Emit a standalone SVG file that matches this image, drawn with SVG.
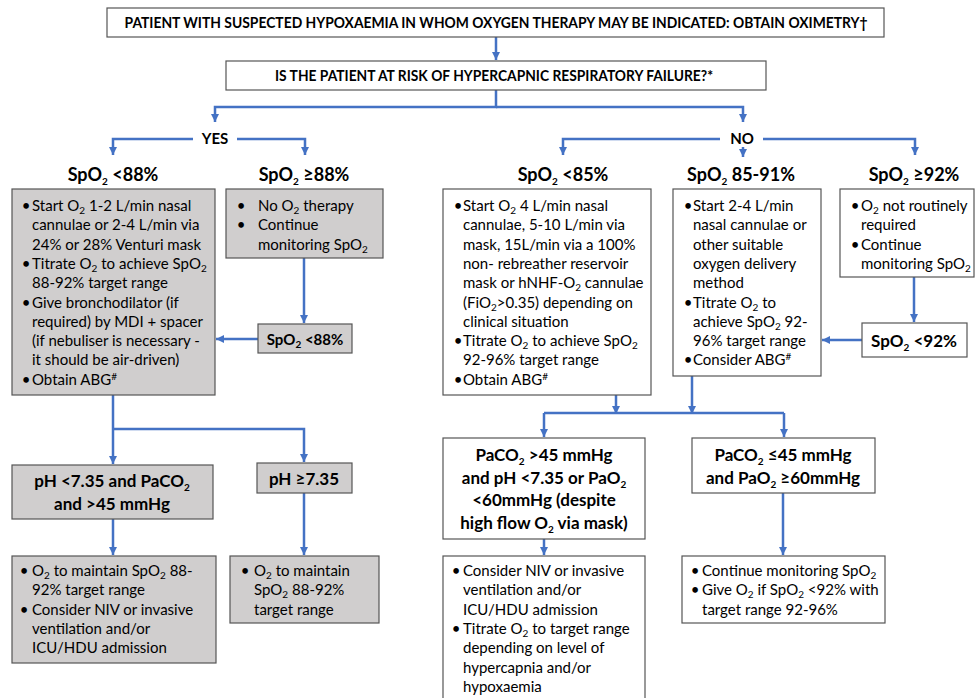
<svg xmlns="http://www.w3.org/2000/svg" width="976" height="698" viewBox="0 0 976 698">
<defs>
<marker id="ah" viewBox="0 0 8 8" refX="8" refY="4" markerWidth="8" markerHeight="8" markerUnits="userSpaceOnUse" orient="auto">
<path d="M0,0 L8,4 L0,8 z" fill="#4472C4"/>
</marker>
<style>
text{font-family:Lato,"Liberation Sans",sans-serif;fill:#000}
.hdr{font-size:15.5px;font-weight:bold;text-anchor:middle}
.lbl{font-size:18px;font-weight:bold;text-anchor:middle}
.yn{font-size:15px;font-weight:bold;text-anchor:middle}
.bh{font-size:17px;font-weight:bold;text-anchor:middle}
.t{font-size:15px}
.bu{font-size:15px;text-anchor:middle}
.s{font-size:10px}
.w{fill:#fff;stroke:#555;stroke-width:1.2}
.g{fill:#D0CECE;stroke:#555;stroke-width:1.2}
.c{fill:none;stroke:#4472C4;stroke-width:2.5}
.ca{fill:none;stroke:#4472C4;stroke-width:2.5;marker-end:url(#ah)}
</style>
</defs>
<rect width="976" height="698" fill="#fff"/>

<g id="connectors">
<path class="ca" d="M496,37 V60"/>
<path class="ca" d="M496,90 V107 H215 V122"/>
<path class="ca" d="M496,107 H743 V122"/>
<path class="ca" d="M193,139 H113 V155"/>
<path class="ca" d="M237,139 H305 V155"/>
<path class="ca" d="M720,139 H563 V155"/>
<path class="ca" d="M763,139 H915 V155"/>
<path class="ca" d="M743,147 V157"/>
<path class="ca" d="M304,258 V323"/>
<path class="ca" d="M258,339 H216"/>
<path class="ca" d="M113,395 V464"/>
<path class="ca" d="M113,429 H304 V462"/>
<path class="ca" d="M113,519 V555"/>
<path class="ca" d="M304,493 V555"/>
<path class="ca" d="M914,277 V322"/>
<path class="ca" d="M862,340 H822"/>
<path class="ca" d="M616,395 V414"/>
<path class="ca" d="M692,376 V414"/>
<path class="c" d="M544,413 H784"/>
<path class="ca" d="M544,413 V437"/>
<path class="ca" d="M784,413 V437"/>
<path class="ca" d="M544,539 V555"/>
<path class="ca" d="M783,493 V555"/>
</g>

<g id="n-start">
<rect class="w" x="107" y="8" width="777" height="29"/>
<text class="hdr" x="496" y="28" textLength="743" lengthAdjust="spacingAndGlyphs">PATIENT WITH SUSPECTED HYPOXAEMIA IN WHOM OXYGEN THERAPY MAY BE INDICATED: OBTAIN OXIMETRY†</text>
</g>

<g id="n-risk">
<rect class="w" x="226" y="61" width="540" height="29"/>
<text class="hdr" x="494" y="81" textLength="438" lengthAdjust="spacingAndGlyphs">IS THE PATIENT AT RISK OF HYPERCAPNIC RESPIRATORY FAILURE?*</text>
</g>

<g id="l-yes"><text class="yn" x="215" y="144">YES</text></g>
<g id="l-no"><text class="yn" x="742" y="144">NO</text></g>

<g id="l-spo2-lt88"><text class="lbl" x="113" y="181">SpO<tspan class="s" dy="4">2</tspan><tspan dy="-4"> &lt;88%</tspan></text></g>
<g id="l-spo2-ge88"><text class="lbl" x="304" y="181">SpO<tspan class="s" dy="4">2</tspan><tspan dy="-4"> ≥88%</tspan></text></g>
<g id="l-spo2-lt85"><text class="lbl" x="563" y="181">SpO<tspan class="s" dy="4">2</tspan><tspan dy="-4"> &lt;85%</tspan></text></g>
<g id="l-spo2-85-91"><text class="lbl" x="741" y="181">SpO<tspan class="s" dy="4">2</tspan><tspan dy="-4"> 85-91%</tspan></text></g>
<g id="l-spo2-ge92"><text class="lbl" x="914" y="181">SpO<tspan class="s" dy="4">2</tspan><tspan dy="-4"> ≥92%</tspan></text></g>

<g id="n-yes-lt88">
<rect class="g" x="12" y="189" width="203" height="206"/>
<text class="bu" x="26" y="211">•</text><text class="t" x="32" y="211">Start O<tspan class="s" dy="3">2</tspan><tspan dy="-3"> 1-2 L/min nasal</tspan></text>
<text class="t" x="32" y="230">cannulae or 2-4 L/min via</text>
<text class="t" x="32" y="250">24% or 28% Venturi mask</text>
<text class="bu" x="26" y="269">•</text><text class="t" x="32" y="269">Titrate O<tspan class="s" dy="3">2</tspan><tspan dy="-3"> to achieve SpO</tspan><tspan class="s" dy="3">2</tspan></text>
<text class="t" x="32" y="288">88-92% target range</text>
<text class="bu" x="26" y="308">•</text><text class="t" x="32" y="308">Give bronchodilator (if</text>
<text class="t" x="32" y="327">required) by MDI + spacer</text>
<text class="t" x="32" y="346">(if nebuliser is necessary -</text>
<text class="t" x="32" y="365">it should be air-driven)</text>
<text class="bu" x="26" y="385">•</text><text class="t" x="32" y="385">Obtain ABG<tspan class="s" dy="-5">#</tspan></text>
</g>

<g id="n-yes-ge88">
<rect class="g" x="226" y="189" width="157" height="69"/>
<text class="bu" x="241" y="211">•</text><text class="t" x="258" y="211">No O<tspan class="s" dy="3">2</tspan><tspan dy="-3"> therapy</tspan></text>
<text class="bu" x="241" y="230">•</text><text class="t" x="258" y="230">Continue</text>
<text class="t" x="258" y="250">monitoring SpO<tspan class="s" dy="3">2</tspan></text>
</g>

<g id="n-yes-recheck">
<rect class="g" x="258" y="324" width="94" height="29"/>
<text class="bh" x="305" y="345" style="font-size:15px">SpO<tspan class="s" dy="3">2</tspan><tspan dy="-3"> &lt;88%</tspan></text>
</g>

<g id="n-ph-low">
<rect class="g" x="12" y="465" width="201" height="54"/>
<text class="bh" x="112" y="487">pH &lt;7.35 and PaCO<tspan class="s" dy="4">2</tspan></text>
<text class="bh" x="112" y="510">and &gt;45 mmHg</text>
</g>

<g id="n-ph-ok">
<rect class="g" x="257" y="463" width="95" height="30"/>
<text class="bh" x="304" y="485">pH ≥7.35</text>
</g>

<g id="n-ph-low-action">
<rect class="g" x="12" y="556" width="204" height="107"/>
<text class="bu" x="24" y="576">•</text><text class="t" x="32" y="576">O<tspan class="s" dy="3">2</tspan><tspan dy="-3"> to maintain SpO</tspan><tspan class="s" dy="3">2</tspan><tspan dy="-3"> 88-</tspan></text>
<text class="t" x="32" y="595">92% target range</text>
<text class="bu" x="24" y="615">•</text><text class="t" x="32" y="615">Consider NIV or invasive</text>
<text class="t" x="32" y="634">ventilation and/or</text>
<text class="t" x="32" y="653">ICU/HDU admission</text>
</g>

<g id="n-ph-ok-action">
<rect class="g" x="230" y="556" width="149" height="67"/>
<text class="bu" x="245" y="576">•</text><text class="t" x="254" y="576">O<tspan class="s" dy="3">2</tspan><tspan dy="-3"> to maintain</tspan></text>
<text class="t" x="254" y="595">SpO<tspan class="s" dy="3">2</tspan><tspan dy="-3"> 88-92%</tspan></text>
<text class="t" x="254" y="615">target range</text>
</g>

<g id="n-no-lt85">
<rect class="w" x="443" y="189" width="208" height="206"/>
<text class="bu" x="458" y="211">•</text><text class="t" x="463" y="211">Start O<tspan class="s" dy="3">2</tspan><tspan dy="-3"> 4 L/min nasal</tspan></text>
<text class="t" x="463" y="230">cannulae, 5-10 L/min via</text>
<text class="t" x="463" y="250">mask, 15L/min via a 100%</text>
<text class="t" x="463" y="269">non- rebreather reservoir</text>
<text class="t" x="463" y="288">mask or hNHF-O<tspan class="s" dy="3">2</tspan><tspan dy="-3"> cannulae</tspan></text>
<text class="t" x="463" y="308">(FiO<tspan class="s" dy="3">2</tspan><tspan dy="-3">&gt;0.35) depending on</tspan></text>
<text class="t" x="463" y="327">clinical situation</text>
<text class="bu" x="458" y="346">•</text><text class="t" x="463" y="346">Titrate O<tspan class="s" dy="3">2</tspan><tspan dy="-3"> to achieve SpO</tspan><tspan class="s" dy="3">2</tspan></text>
<text class="t" x="463" y="365">92-96% target range</text>
<text class="bu" x="458" y="385">•</text><text class="t" x="463" y="385">Obtain ABG<tspan class="s" dy="-5">#</tspan></text>
</g>

<g id="n-no-85-91">
<rect class="w" x="673" y="189" width="148" height="187"/>
<text class="bu" x="688" y="211">•</text><text class="t" x="693" y="211">Start 2-4 L/min</text>
<text class="t" x="693" y="230">nasal cannulae or</text>
<text class="t" x="693" y="250">other suitable</text>
<text class="t" x="693" y="269">oxygen delivery</text>
<text class="t" x="693" y="288">method</text>
<text class="bu" x="688" y="308">•</text><text class="t" x="693" y="308">Titrate O<tspan class="s" dy="3">2</tspan><tspan dy="-3"> to</tspan></text>
<text class="t" x="693" y="327">achieve SpO<tspan class="s" dy="3">2</tspan><tspan dy="-3"> 92-</tspan></text>
<text class="t" x="693" y="346">96% target range</text>
<text class="bu" x="688" y="365">•</text><text class="t" x="693" y="365">Consider ABG<tspan class="s" dy="-5">#</tspan></text>
</g>

<g id="n-no-ge92">
<rect class="w" x="840" y="189" width="134" height="88"/>
<text class="bu" x="855" y="211">•</text><text class="t" x="861" y="211">O<tspan class="s" dy="3">2</tspan><tspan dy="-3"> not routinely</tspan></text>
<text class="t" x="861" y="230">required</text>
<text class="bu" x="855" y="250">•</text><text class="t" x="861" y="250">Continue</text>
<text class="t" x="861" y="269">monitoring SpO<tspan class="s" dy="3">2</tspan></text>
</g>

<g id="n-no-recheck">
<rect class="w" x="862" y="323" width="105" height="34"/>
<text class="bh" x="914" y="347">SpO<tspan class="s" dy="4">2</tspan><tspan dy="-4"> &lt;92%</tspan></text>
</g>

<g id="n-abg-bad">
<rect class="w" x="443" y="438" width="202" height="101"/>
<text class="bh" x="544" y="461">PaCO<tspan class="s" dy="4">2</tspan><tspan dy="-4"> &gt;45 mmHg</tspan></text>
<text class="bh" x="544" y="484">and pH &lt;7.35 or PaO<tspan class="s" dy="4">2</tspan></text>
<text class="bh" x="544" y="506">&lt;60mmHg (despite</text>
<text class="bh" x="544" y="529">high flow O<tspan class="s" dy="4">2</tspan><tspan dy="-4"> via mask)</tspan></text>
</g>

<g id="n-abg-ok">
<rect class="w" x="692" y="438" width="183" height="55"/>
<text class="bh" x="783" y="461">PaCO<tspan class="s" dy="4">2</tspan><tspan dy="-4"> ≤45 mmHg</tspan></text>
<text class="bh" x="783" y="484">and PaO<tspan class="s" dy="4">2</tspan><tspan dy="-4"> ≥60mmHg</tspan></text>
</g>

<g id="n-abg-bad-action">
<rect class="w" x="443" y="556" width="202" height="150"/>
<text class="bu" x="456" y="576">•</text><text class="t" x="463" y="576">Consider NIV or invasive</text>
<text class="t" x="463" y="595">ventilation and/or</text>
<text class="t" x="463" y="615">ICU/HDU admission</text>
<text class="bu" x="456" y="634">•</text><text class="t" x="463" y="634">Titrate O<tspan class="s" dy="3">2</tspan><tspan dy="-3"> to target range</tspan></text>
<text class="t" x="463" y="653">depending on level of</text>
<text class="t" x="463" y="673">hypercapnia and/or</text>
<text class="t" x="463" y="692">hypoxaemia</text>
</g>

<g id="n-abg-ok-action">
<rect class="w" x="682" y="556" width="203" height="67"/>
<text class="bu" x="695" y="576">•</text><text class="t" x="702" y="576">Continue monitoring SpO<tspan class="s" dy="3">2</tspan></text>
<text class="bu" x="695" y="595">•</text><text class="t" x="702" y="595">Give O<tspan class="s" dy="3">2</tspan><tspan dy="-3"> if SpO</tspan><tspan class="s" dy="3">2</tspan><tspan dy="-3"> &lt;92% with</tspan></text>
<text class="t" x="702" y="615">target range 92-96%</text>
</g>
</svg>
